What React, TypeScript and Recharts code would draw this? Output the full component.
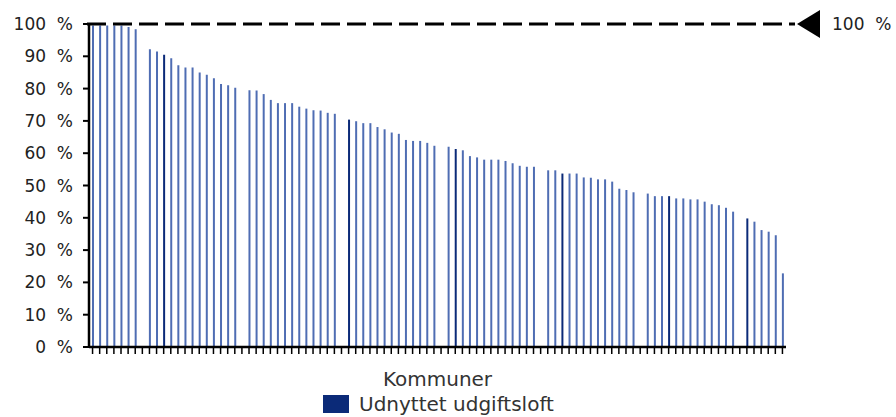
import React from 'react';
import { BarChart, Bar, XAxis, YAxis, ReferenceLine, Legend, Cell } from 'recharts';

// 98 municipalities (unnamed in the chart)
const kommuner: string[] = Array.from({ length: 98 }, (_, i) => `K${i + 1}`);

// Share of expenditure ceiling used (%); null = no bar drawn
const udnyttet: (number | null)[] = [
  99.5, 99.5, 99.5, 99.5, 99.5, 99.1, 98.4, null, 92.2, 91.5,
  90.5, 89.4, 87.2, 86.5, 86.5, 85.0, 84.3, 83.2, 81.4, 81.0,
  80.3, null, 79.5, 79.4, 78.3, 76.5, 75.5, 75.5, 75.5, 74.4,
  73.8, 73.3, 73.2, 72.5, 72.2, null, 70.4, 69.9, 69.3, 69.3,
  68.1, 67.4, 66.4, 66.0, 64.1, 63.8, 63.8, 63.2, 62.3, null,
  62.0, 61.3, 60.9, 59.1, 58.7, 58.0, 58.0, 58.0, 57.6, 56.9,
  56.1, 55.8, 55.8, null, 54.7, 54.7, 53.7, 53.7, 53.7, 52.5,
  52.4, 51.9, 51.9, 51.2, 49.0, 48.6, 47.9, null, 47.5, 46.7,
  46.7, 46.7, 46.0, 46.0, 45.7, 45.7, 45.0, 44.2, 43.9, 43.1,
  41.9, null, 39.8, 38.8, 36.2, 35.7, 34.6, 22.8,
];

// Bars that appear in the darker navy tone
const darkBars: number[] = [10, 36, 51, 66, 81, 92];

const yTicks: number[] = [0, 10, 20, 30, 40, 50, 60, 70, 80, 90, 100];
const ceilingValue = 100;
const seriesName = 'Udnyttet udgiftsloft';
const xLabel = 'Kommuner';

const data = kommuner.map((k, i) => ({ kommune: k, value: udnyttet[i] }));

const FONT = 'DejaVu Sans, Verdana, sans-serif';
const NAVY = '#0b2a78';
const LIGHT = '#4f6db3';
const pct = (v: number) => `${v}\u00a0\u00a0%`;

const RefShape = (props: any) => {
  const { x1, y1, x2 } = props;
  const y = y1;
  return (
    <g>
      <line x1={x1 - 2} y1={y} x2={x2 + 9} y2={y} stroke="#000" strokeWidth={3} strokeDasharray="19 7" />
      <polygon points={`${x2 + 11},${y} ${x2 + 34},${y - 14} ${x2 + 34},${y + 14}`} fill="#000" />
      <text x={x2 + 46} y={y} dominantBaseline="central" fontSize={17} fill="#222" fontFamily={FONT}>
        {pct(ceilingValue)}
      </text>
    </g>
  );
};

const LegendContent = () => (
  <div style={{ display: 'flex', alignItems: 'center', fontFamily: FONT, fontSize: 20, color: '#333', lineHeight: '18px', whiteSpace: 'nowrap' }}>
    <span style={{ width: 26, height: 18, background: NAVY, display: 'inline-block', marginRight: 10 }} />
    <span>{seriesName}</span>
  </div>
);

export default function App() {
  return (
    <div style={{ position: 'absolute', left: 0, top: 0 }}>
      <BarChart width={896} height={417} data={data} margin={{ top: 24, right: 110, bottom: 40, left: 0 }}>
        <XAxis
          dataKey="kommune"
          interval={0}
          tickFormatter={() => ''}
          tickSize={7}
          height={30}
          axisLine={{ stroke: '#000', strokeWidth: 2.5 }}
          tickLine={{ stroke: '#000', strokeWidth: 1.5 }}
          label={{ value: xLabel, position: 'insideTop', offset: 25, fontSize: 20, fill: '#333', fontFamily: FONT }}
        />
        <YAxis
          domain={[0, 100]}
          ticks={yTicks}
          interval={0}
          width={89}
          tickSize={6}
          tickMargin={10}
          tickFormatter={pct}
          tick={{ fontSize: 17, fill: '#222', fontFamily: FONT }}
          axisLine={{ stroke: '#000', strokeWidth: 2.5 }}
          tickLine={{ stroke: '#000', strokeWidth: 2 }}
        />
        <Bar dataKey="value" name={seriesName} barSize={2} fill={LIGHT} isAnimationActive={false}>
          {data.map((d, i) => (
            <Cell key={d.kommune} fill={darkBars.includes(i) ? NAVY : LIGHT} />
          ))}
        </Bar>
        <ReferenceLine y={ceilingValue} shape={RefShape} />
        <Legend
          layout="horizontal"
          verticalAlign="middle"
          align="center"
          content={LegendContent}
          wrapperStyle={{ left: 323, top: 395, width: 'auto', height: 'auto' }}
        />
      </BarChart>
    </div>
  );
}
